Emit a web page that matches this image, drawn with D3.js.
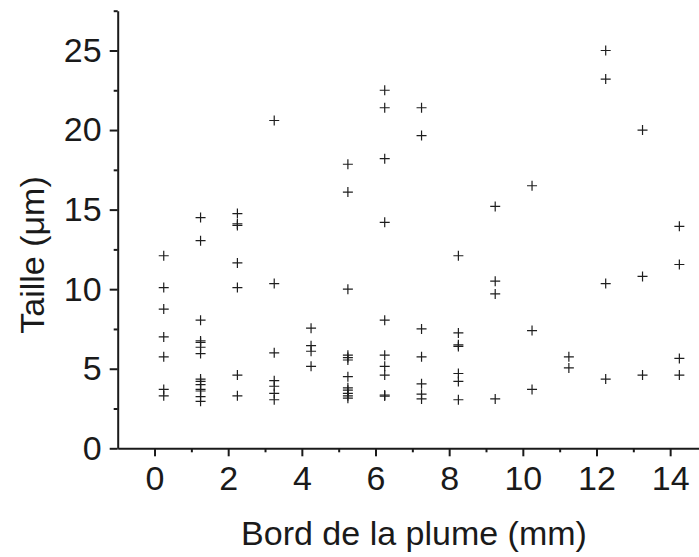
<!DOCTYPE html>
<html><head><meta charset="utf-8">
<script src="https://cdn.jsdelivr.net/npm/d3@7"></script>
<style>
html,body{margin:0;padding:0;background:#fff;}
svg{display:block;}
text{font-family:"Liberation Sans",Arial,Helvetica,sans-serif;fill:#1a1a1a;}
</style></head>
<body>
<svg id="chart" width="699" height="557"></svg>
<script>
// Positions along the plume edge (mm)
const positions = [0.25, 1.25, 2.25, 3.25, 4.25, 5.25, 6.25, 7.25, 8.25, 9.25, 10.25, 11.25, 12.25, 13.25, 14.25];
// Sizes (µm) measured at each position
const sizesAt0 = [12.1, 10.1, 8.75, 7.0, 5.75, 3.7, 3.3];
const sizesAt1 = [14.5, 13.05, 8.05, 6.75, 6.65, 6.35, 5.95, 4.35, 4.2, 4.0, 3.7, 3.6, 3.25, 2.95];
const sizesAt2 = [14.75, 14.1, 14.0, 11.65, 10.1, 4.6, 3.3];
const sizesAt3 = [20.6, 10.35, 6.0, 4.25, 3.9, 3.45, 3.05];
const sizesAt4 = [7.55, 6.45, 6.1, 5.15];
const sizesAt5 = [17.85, 16.1, 10.0, 5.85, 5.7, 5.55, 4.5, 3.8, 3.65, 3.45, 3.3, 3.15];
const sizesAt6 = [22.5, 21.4, 18.2, 14.2, 8.05, 5.85, 5.15, 4.6, 3.35, 3.28];
const sizesAt7 = [21.4, 19.65, 7.5, 5.75, 4.05, 3.4, 3.1];
const sizesAt8 = [12.1, 7.25, 6.5, 6.4, 4.7, 4.2, 3.05];
const sizesAt9 = [15.2, 10.5, 9.7, 3.1];
const sizesAt10 = [16.5, 7.4, 3.7];
const sizesAt11 = [5.75, 5.05];
const sizesAt12 = [25.0, 23.2, 10.35, 4.35];
const sizesAt13 = [20.0, 10.8, 4.6];
const sizesAt14 = [13.95, 11.55, 5.65, 4.6];
const sizeColumns = [sizesAt0, sizesAt1, sizesAt2, sizesAt3, sizesAt4, sizesAt5, sizesAt6, sizesAt7,
  sizesAt8, sizesAt9, sizesAt10, sizesAt11, sizesAt12, sizesAt13, sizesAt14];

const xMajorTicks = [0, 2, 4, 6, 8, 10, 12, 14];
const xMinorTicks = [1, 3, 5, 7, 9, 11, 13];
const yMajorTicks = [0, 5, 10, 15, 20, 25];
const yMinorTicks = [2.5, 7.5, 12.5, 17.5, 22.5, 27.5];
const xTitle = "Bord de la plume (mm)";
const yTitle = "Taille (\u03bcm)";

const points = [];
positions.forEach((p, i) => sizeColumns[i].forEach(v => points.push({x: p, y: v})));

const svg = d3.select("#chart");
const plotLeft = 117.7, plotBottom = 448.3, plotTop = 10.7;
const x = d3.scaleLinear().domain([-1, 15]).range([plotLeft, plotLeft + 16 * 36.83]);
const y = d3.scaleLinear().domain([0, 27.5]).range([plotBottom, plotTop]);

// Points as "+" markers
const arm = 5;
const g = svg.append("g");
g.selectAll("path.pt").data(points).join("path")
  .attr("class", "pt")
  .attr("d", d => {
    const cx = x(d.x), cy = y(d.y);
    return `M${cx - arm},${cy}H${cx + arm}M${cx},${cy - arm}V${cy + arm}`;
  })
  .attr("stroke", "#1e1e1e").attr("stroke-width", 1.2).attr("fill", "none");

// X axis
const xAxisG = svg.append("g").attr("transform", `translate(0,${plotBottom})`);
xAxisG.call(d3.axisBottom(x).tickValues(xMajorTicks).tickSize(8).tickSizeOuter(0).tickPadding(10).tickFormat(d3.format("d")));
xAxisG.append("g").call(d3.axisBottom(x).tickValues(xMinorTicks).tickSize(4).tickSizeOuter(0).tickFormat(""))
  .select(".domain").remove();

// Y axis
const yAxisG = svg.append("g").attr("transform", `translate(${plotLeft},0)`);
yAxisG.call(d3.axisLeft(y).tickValues(yMajorTicks).tickSize(8).tickSizeOuter(0).tickPadding(8).tickFormat(d3.format("d")));
yAxisG.append("g").call(d3.axisLeft(y).tickValues(yMinorTicks).tickSize(4).tickSizeOuter(0).tickFormat(""))
  .select(".domain").remove();

svg.selectAll(".domain").attr("stroke", "#1a1a1a").attr("stroke-width", 2);
svg.selectAll(".tick line").attr("stroke", "#1a1a1a").attr("stroke-width", 2);
svg.selectAll(".tick text").attr("font-size", 34).attr("fill", "#1a1a1a")
  .style("font-family", "'Liberation Sans', Arial, sans-serif");

// Axis titles
svg.append("text").attr("x", 414).attr("y", 545).attr("text-anchor", "middle")
  .attr("font-size", 34).text(xTitle);
svg.append("text").attr("transform", `translate(44,255) rotate(-90)`).attr("text-anchor", "middle")
  .attr("font-size", 34).text(yTitle);
</script>
</body></html>
